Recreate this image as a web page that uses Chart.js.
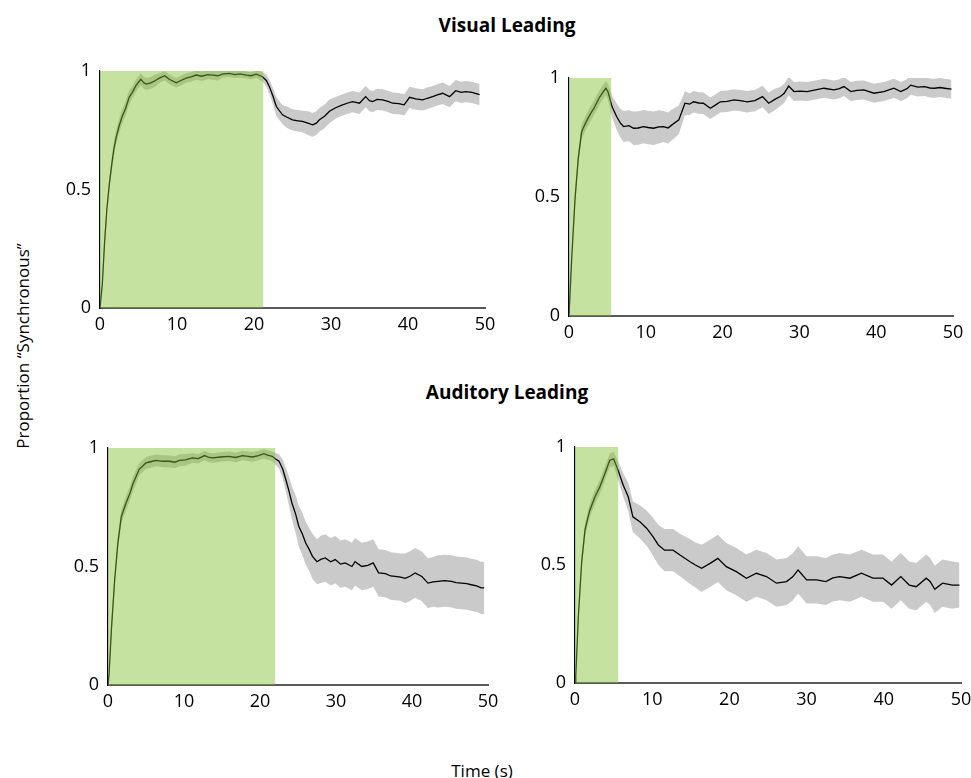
<!DOCTYPE html>
<html>
<head>
<meta charset="utf-8">
<title>Proportion Synchronous</title>
<script src="https://cdn.jsdelivr.net/npm/chart.js@4.4.0/dist/chart.umd.min.js"></script>
<style>
  body { margin: 0; background: #fff; font-family: "Open Sans", sans-serif; }
  #page { position: relative; width: 971px; height: 778px; overflow: hidden; }
  .lbl { position: absolute; transform: translate(-50%, -50%); white-space: nowrap; color: #000; }
  .title { font-weight: 700; font-size: 19px; }
  .axis { font-size: 17px; }
  canvas { position: absolute; }
</style>
</head>
<body>
<div id="page">
  <div class="lbl title" style="left:507px;top:25px">Visual Leading</div>
  <div class="lbl title" style="left:507px;top:392px">Auditory Leading</div>
  <div class="lbl axis" style="left:22px;top:346px;transform:translate(-50%,-50%) rotate(-90deg)">Proportion “Synchronous”</div>
  <div class="lbl axis" style="left:482px;top:770px">Time (s)</div>
  <canvas id="c1"></canvas>
  <canvas id="c2"></canvas>
  <canvas id="c3"></canvas>
  <canvas id="c4"></canvas>
</div>
<script>
// --- data (time in s, proportion synchronous, half-width of the grey band) ---

// Visual leading, long exposure
const visLongTime = [0, 0.3, 0.6, 0.9, 1.2, 1.5, 1.8, 2.1, 2.5, 2.9, 3.3, 3.8, 4.2, 4.7, 5.3, 5.7, 6.0, 6.6, 7.2, 7.7,
  8.4, 9.0, 9.9, 10.5, 11.2, 11.8, 12.5, 13.2, 14.0, 14.6, 15.3, 15.9, 16.8, 17.5, 18.2, 19.0, 19.6, 20.3, 21.1, 21.6,
  22.0, 22.5, 22.9, 23.7, 24.3, 25.0, 25.7, 26.3, 27.0, 27.6, 28.1, 28.5, 29.2, 29.8, 30.6, 31.5, 32.2, 32.8, 33.7, 34.5,
  35.0, 35.4, 36.0, 36.7, 37.4, 38.0, 38.8, 39.5, 40.2, 41.0, 41.9, 42.5, 43.2, 43.9, 44.5, 45.4, 46.2, 46.9, 47.5, 48.3, 49.3];
const visLongMean = [0, 0.1, 0.28, 0.42, 0.52, 0.6, 0.67, 0.72, 0.77, 0.81, 0.84, 0.89, 0.91, 0.94, 0.965, 0.95, 0.945, 0.95, 0.96, 0.97,
  0.98, 0.965, 0.95, 0.96, 0.97, 0.975, 0.983, 0.978, 0.985, 0.983, 0.98, 0.987, 0.99, 0.985, 0.988, 0.983, 0.98, 0.987, 0.976, 0.96,
  0.934, 0.89, 0.85, 0.815, 0.805, 0.794, 0.79, 0.787, 0.78, 0.773, 0.78, 0.794, 0.81, 0.83, 0.845, 0.857, 0.865, 0.871, 0.864, 0.892,
  0.875, 0.871, 0.88, 0.878, 0.872, 0.864, 0.862, 0.857, 0.889, 0.882, 0.878, 0.885, 0.892, 0.9, 0.906, 0.892, 0.917, 0.91, 0.913, 0.91, 0.9];
const visLongErr = [0, 0.02, 0.03, 0.03, 0.03, 0.03, 0.03, 0.03, 0.03, 0.03, 0.03, 0.03, 0.025, 0.025, 0.025, 0.025, 0.025, 0.025, 0.025, 0.02,
  0.02, 0.02, 0.02, 0.02, 0.02, 0.02, 0.02, 0.02, 0.02, 0.02, 0.02, 0.015, 0.015, 0.015, 0.015, 0.015, 0.015, 0.015, 0.02, 0.025,
  0.03, 0.035, 0.04, 0.04, 0.045, 0.045, 0.045, 0.045, 0.05, 0.05, 0.05, 0.05, 0.05, 0.05, 0.045, 0.045, 0.045, 0.045, 0.045, 0.045,
  0.045, 0.045, 0.045, 0.045, 0.045, 0.045, 0.045, 0.045, 0.045, 0.045, 0.045, 0.045, 0.045, 0.045, 0.045, 0.045, 0.045, 0.045, 0.045, 0.045, 0.045];

// Visual leading, short exposure
const visShortTime = [0, 0.35, 0.78, 1.2, 1.65, 2.3, 2.8, 3.2, 3.6, 4.0, 4.4, 4.8, 5.1, 5.6, 6.2, 6.7, 7.1, 7.8, 8.4, 9.0,
  9.7, 10.3, 11.0, 11.7, 12.3, 12.9, 13.4, 14.3, 15.1, 15.7, 16.2, 16.9, 17.5, 18.4, 19.0, 19.7, 20.6, 21.5, 22.3, 23.2,
  24.2, 25.2, 26.0, 26.8, 27.5, 28.0, 28.6, 29.3, 30.1, 31.0, 32.1, 33.2, 34.5, 35.2, 35.8, 36.7, 37.5, 38.4, 39.7, 41.0,
  42.3, 43.2, 44.0, 44.5, 45.4, 46.3, 47.0, 47.6, 48.3, 48.9, 49.8];
const visShortMean = [0, 0.24, 0.49, 0.66, 0.775, 0.82, 0.85, 0.87, 0.895, 0.92, 0.94, 0.957, 0.94, 0.88, 0.838, 0.81, 0.796, 0.8, 0.789, 0.79,
  0.796, 0.792, 0.789, 0.795, 0.796, 0.79, 0.803, 0.824, 0.894, 0.89, 0.9, 0.895, 0.894, 0.873, 0.885, 0.9, 0.902, 0.908, 0.905, 0.9,
  0.905, 0.922, 0.894, 0.91, 0.922, 0.935, 0.966, 0.943, 0.945, 0.943, 0.95, 0.957, 0.95, 0.955, 0.964, 0.943, 0.948, 0.95, 0.936, 0.943,
  0.957, 0.943, 0.955, 0.97, 0.962, 0.964, 0.958, 0.957, 0.96, 0.957, 0.953];
const visShortErr = [0, 0.02, 0.03, 0.03, 0.03, 0.03, 0.03, 0.03, 0.03, 0.03, 0.03, 0.03, 0.035, 0.045, 0.055, 0.06, 0.065, 0.065, 0.07, 0.07,
  0.07, 0.07, 0.07, 0.07, 0.065, 0.065, 0.065, 0.06, 0.05, 0.045, 0.045, 0.045, 0.045, 0.045, 0.045, 0.045, 0.045, 0.045, 0.045, 0.045,
  0.045, 0.045, 0.045, 0.045, 0.04, 0.04, 0.04, 0.04, 0.04, 0.04, 0.04, 0.04, 0.04, 0.04, 0.04, 0.04, 0.04, 0.04, 0.04, 0.04,
  0.04, 0.04, 0.04, 0.04, 0.04, 0.04, 0.04, 0.04, 0.04, 0.04, 0.04];

// Auditory leading, long exposure
const audLongTime = [0, 0.15, 0.44, 0.87, 1.3, 1.75, 2.4, 2.9, 3.3, 3.7, 4.1, 4.6, 5.0, 5.6, 6.3, 7.2, 8.1, 8.8, 9.4, 10.2,
  11.1, 11.9, 12.7, 13.3, 13.8, 14.8, 15.9, 16.8, 17.7, 18.4, 19.0, 19.8, 20.5, 21.0, 21.6, 22.0, 22.5, 23.0, 23.4, 23.8,
  24.2, 24.7, 25.1, 25.6, 26.0, 26.5, 26.9, 27.5, 28.0, 28.6, 29.3, 29.9, 30.6, 31.2, 32.1, 32.5, 33.4, 34.2, 34.9, 35.6,
  36.5, 37.2, 37.8, 38.5, 39.1, 39.8, 40.4, 41.3, 42.1, 42.8, 43.4, 44.3, 45.2, 45.8, 46.5, 47.2, 47.8, 48.5, 49.1, 49.5];
const audLongMean = [0, 0.05, 0.23, 0.44, 0.6, 0.71, 0.77, 0.81, 0.85, 0.88, 0.91, 0.925, 0.937, 0.942, 0.948, 0.944, 0.944, 0.94, 0.948, 0.95,
  0.958, 0.955, 0.968, 0.96, 0.958, 0.962, 0.965, 0.96, 0.968, 0.965, 0.962, 0.968, 0.976, 0.97, 0.965, 0.955, 0.944, 0.91, 0.866, 0.82,
  0.768, 0.72, 0.67, 0.635, 0.6, 0.57, 0.543, 0.52, 0.53, 0.536, 0.52, 0.529, 0.51, 0.515, 0.5, 0.52, 0.5, 0.505, 0.515, 0.473,
  0.47, 0.46, 0.458, 0.455, 0.45, 0.46, 0.473, 0.458, 0.43, 0.435, 0.437, 0.44, 0.437, 0.432, 0.43, 0.428, 0.423, 0.418, 0.41, 0.41];
const audLongErr = [0, 0.02, 0.03, 0.03, 0.03, 0.03, 0.03, 0.03, 0.03, 0.03, 0.025, 0.025, 0.025, 0.025, 0.025, 0.025, 0.025, 0.025, 0.025, 0.025,
  0.02, 0.02, 0.02, 0.02, 0.02, 0.02, 0.02, 0.02, 0.02, 0.02, 0.02, 0.02, 0.02, 0.02, 0.02, 0.025, 0.03, 0.04, 0.05, 0.06,
  0.07, 0.08, 0.085, 0.09, 0.09, 0.09, 0.095, 0.095, 0.1, 0.1, 0.1, 0.1, 0.1, 0.1, 0.1, 0.1, 0.1, 0.1, 0.1, 0.1,
  0.1, 0.1, 0.1, 0.1, 0.105, 0.105, 0.105, 0.105, 0.105, 0.105, 0.11, 0.11, 0.11, 0.11, 0.11, 0.11, 0.11, 0.11, 0.11, 0.11];

// Auditory leading, short exposure
const audShortTime = [0, 0.1, 0.43, 0.86, 1.3, 1.9, 2.6, 3.2, 3.9, 4.5, 5.0, 5.6, 6.25, 6.9, 7.5, 8.4, 9.3, 10.1, 10.8, 11.6,
  12.7, 13.6, 14.9, 15.6, 16.4, 17.5, 18.5, 19.6, 20.9, 22.2, 23.5, 24.8, 26.1, 27.4, 28.2, 28.9, 30.0, 31.3, 32.5, 33.4,
  34.3, 35.6, 37.1, 38.6, 39.9, 41.0, 42.2, 43.3, 44.2, 45.5, 46.0, 46.6, 47.6, 48.9, 49.8];
const audShortMean = [0, 0.03, 0.28, 0.51, 0.65, 0.73, 0.79, 0.83, 0.89, 0.944, 0.95, 0.9, 0.838, 0.789, 0.704, 0.683, 0.655, 0.62, 0.585, 0.563,
  0.563, 0.542, 0.514, 0.5, 0.486, 0.507, 0.528, 0.493, 0.472, 0.444, 0.465, 0.451, 0.423, 0.43, 0.45, 0.479, 0.437, 0.437, 0.43, 0.445,
  0.451, 0.444, 0.465, 0.444, 0.444, 0.415, 0.451, 0.415, 0.408, 0.444, 0.43, 0.397, 0.423, 0.415, 0.415];
const audShortErr = [0, 0.02, 0.03, 0.03, 0.03, 0.03, 0.03, 0.03, 0.03, 0.03, 0.03, 0.04, 0.05, 0.06, 0.065, 0.07, 0.075, 0.08, 0.085, 0.09,
  0.09, 0.09, 0.095, 0.095, 0.1, 0.1, 0.1, 0.1, 0.1, 0.1, 0.1, 0.1, 0.1, 0.1, 0.1, 0.1, 0.1, 0.1, 0.1, 0.1,
  0.1, 0.1, 0.1, 0.1, 0.1, 0.1, 0.1, 0.1, 0.1, 0.1, 0.1, 0.1, 0.1, 0.1, 0.095];

// exposure period (green block), seconds
const stimEnds = [21.2, 5.5, 22.0, 5.6];
const xTicks = [0, 10, 20, 30, 40, 50];
const yTicks = [0, 0.5, 1];

// --- layout ---
Chart.defaults.font.family = "'Open Sans', sans-serif";
Chart.defaults.font.size = 18;
Chart.defaults.color = "#000";

const PAD_L = 50, PAD_T = 15, PAD_R = 20, PAD_B = 40;

// green exposure block, drawn over the data like in the original
const stimPlugin = {
  id: "stim",
  afterDatasetsDraw(chart, args, opts) {
    const { ctx, scales: { x, y } } = chart;
    const x0 = x.getPixelForValue(opts.from);
    const x1 = x.getPixelForValue(opts.to);
    const y0 = y.getPixelForValue(1);
    const y1 = y.getPixelForValue(0);
    ctx.save();
    ctx.fillStyle = "rgba(126,191,44,0.45)";
    ctx.fillRect(x0, y0, x1 - x0, y1 - y0);
    ctx.restore();
  }
};

function makePanel(id, area, time, mean, err, stimEnd) {
  const cv = document.getElementById(id);
  cv.width = area.r - area.l + PAD_L + PAD_R;
  cv.height = area.b - area.t + PAD_T + PAD_B;
  cv.style.left = (area.l - PAD_L) + "px";
  cv.style.top = (area.t - PAD_T) + "px";

  const pts = (vals) => time.map((t, i) => ({ x: t, y: vals[i] }));
  const upper = mean.map((m, i) => m + err[i]);
  const lower = mean.map((m, i) => Math.max(0, m - err[i]));

  return new Chart(cv, {
    type: "line",
    data: {
      datasets: [
        { data: pts(mean), borderColor: "#000", borderWidth: 1.3, pointRadius: 0, tension: 0, fill: false },
        { data: pts(upper), borderWidth: 0, borderColor: "transparent", pointRadius: 0, fill: "+1", backgroundColor: "rgba(150,150,150,0.5)" },
        { data: pts(lower), borderWidth: 0, borderColor: "transparent", pointRadius: 0, fill: false }
      ]
    },
    options: {
      responsive: false,
      animation: false,
      layout: { padding: { top: PAD_T, right: PAD_R, left: 0, bottom: 0 } },
      plugins: {
        legend: { display: false },
        tooltip: { enabled: false },
        stim: { from: 0, to: stimEnd }
      },
      scales: {
        x: {
          type: "linear", min: 0, max: 50,
          grid: { display: false, drawTicks: false },
          border: { display: true, color: "#595959", width: 2 },
          afterBuildTicks: (s) => { s.ticks = xTicks.map(v => ({ value: v })); },
          ticks: { padding: 6, maxRotation: 0, callback: (v) => String(v) },
          afterFit: (s) => { s.height = PAD_B; s.paddingLeft = 0; s.paddingRight = 0; }
        },
        y: {
          min: 0, max: 1,
          grid: { display: false, drawTicks: false },
          border: { display: true, color: "#000", width: 1.2 },
          afterBuildTicks: (s) => { s.ticks = yTicks.map(v => ({ value: v })); },
          ticks: { padding: 9, callback: (v) => String(v) },
          afterFit: (s) => { s.width = PAD_L; s.paddingTop = 0; s.paddingBottom = 0; }
        }
      }
    },
    plugins: [stimPlugin]
  });
}

makePanel("c1", { l: 100, r: 485, t: 71, b: 308 }, visLongTime, visLongMean, visLongErr, stimEnds[0]);
makePanel("c2", { l: 569, r: 953, t: 78, b: 316 }, visShortTime, visShortMean, visShortErr, stimEnds[1]);
makePanel("c3", { l: 108, r: 488, t: 448, b: 685 }, audLongTime, audLongMean, audLongErr, stimEnds[2]);
makePanel("c4", { l: 575, r: 961, t: 447, b: 683 }, audShortTime, audShortMean, audShortErr, stimEnds[3]);
</script>
</body>
</html>
